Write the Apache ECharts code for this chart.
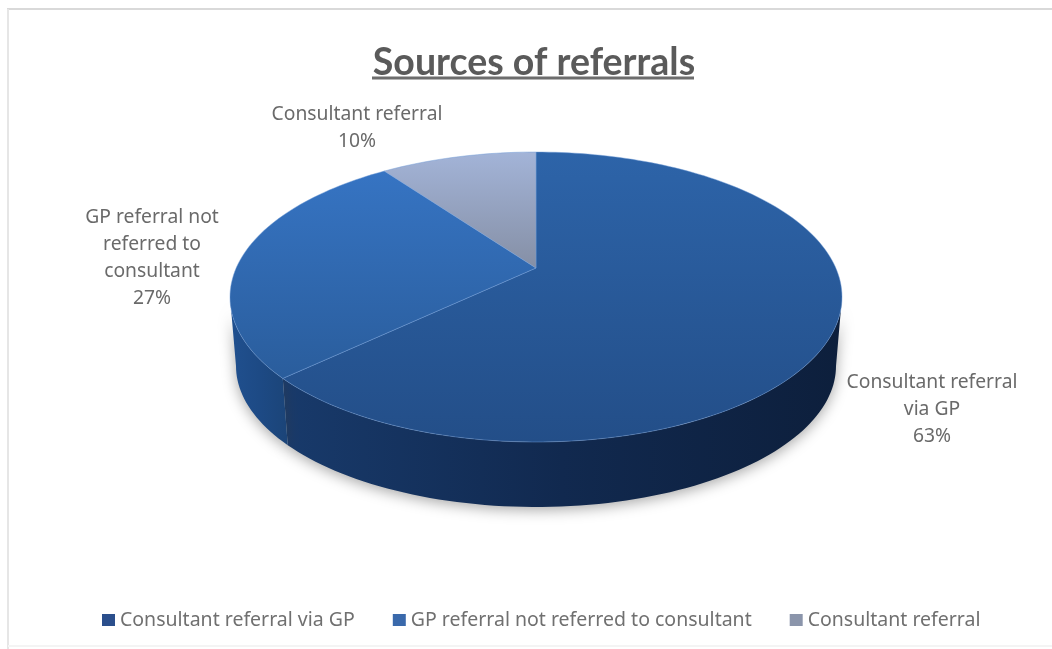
<!DOCTYPE html>
<html>
<head>
<meta charset="utf-8">
<style>html,body{margin:0;padding:0;background:#fff}#chart{width:1052px;height:649px}</style>
<script src="https://cdn.jsdelivr.net/npm/echarts@6/dist/echarts.min.js"></script>
</head>
<body>
<div id="chart"></div>
<script>
// Referral sources, in percent
const categories = ['Consultant referral via GP', 'GP referral not referred to consultant', 'Consultant referral'];
const values = [63, 27, 10];
const labelLines = [
  ['Consultant referral', 'via GP'],
  ['GP referral not', 'referred to', 'consultant'],
  ['Consultant referral']
];

// Tilted disc geometry, in pixels
const TOP_DISC = { cx: 536, cy: 297, rx: 306, ry: 145 };
const BASE_DISC = { cx: 536, cy: 366, rx: 300, ry: 141 };
const TILT = 0.2;              // shifts the pie's centre point towards the far rim
const LABEL_SLOTS = [[932, 383], [152, 218], [357, 115]];
const LABEL_LINE_HEIGHT = 27;
const LEGEND_SWATCH = ['#2b4f8c', '#3a69ab', '#8b95ab'];

const FACE_FILL = [
  ['#2d64a9', '#234e88'],
  ['#3674c3', '#2a5d9c'],
  ['#a3b4d8', '#858fa5']
];
const WALL_FILL = [
  ['#183a6b', '#11294f', '#0d1f3c'],
  ['#20508f', '#1d4a85', '#1b4478'],
  ['#1b4478', '#1b4478', '#1b4478']
];

const total = values.reduce((a, b) => a + b, 0);
const startOf = i => values.slice(0, i).reduce((a, b) => a + b, 0) / total * 360;

// Projects a clockwise angle (degrees from twelve o'clock) and a radius fraction onto a disc.
function project(disc, deg, r) {
  const a = deg * Math.PI / 180;
  const u = Math.sin(a) * r, v = Math.cos(a) * r;
  const w = 1 + TILT * v;
  return [
    disc.cx + disc.rx * Math.sqrt(1 - TILT * TILT) * u / w,
    disc.cy - disc.ry * (v + TILT) / w
  ];
}

function arc(disc, from, to) {
  const pts = [];
  const steps = Math.max(2, Math.ceil((to - from) / 1.5));
  for (let s = 0; s <= steps; s++) pts.push(project(disc, from + (to - from) * s / steps, 1));
  return pts;
}

// The rim faces the viewer between these two angles.
const FRONT_FROM = Math.acos(-TILT) * 180 / Math.PI;
const FRONT_TO = 360 - FRONT_FROM;

const gradient = (x2, y2, cols) => new echarts.graphic.LinearGradient(0, 0, x2, y2,
  cols.map((color, i) => ({ offset: i / (cols.length - 1), color })));

function renderSlice(index) {
  return function (params, api) {
    const from = startOf(index);
    const to = from + api.value(0) / total * 360;
    const children = [];

    const wallFrom = Math.max(from, FRONT_FROM), wallTo = Math.min(to, FRONT_TO);
    if (wallTo > wallFrom) {
      const pts = arc(TOP_DISC, wallFrom, wallTo).concat(arc(BASE_DISC, wallFrom, wallTo).reverse());
      children.push({
        type: 'polygon',
        z2: 1,
        shape: { points: pts },
        style: {
          fill: gradient(1, 0, WALL_FILL[index]),
          shadowBlur: 14,
          shadowOffsetY: 3,
          shadowColor: 'rgba(60,60,60,0.45)'
        }
      });
    }

    children.push({
      type: 'polygon',
      z2: 2,
      shape: { points: [project(TOP_DISC, 0, 0)].concat(arc(TOP_DISC, from, to)) },
      style: {
        fill: gradient(0, 1, FACE_FILL[index]),
        stroke: 'rgba(110,155,215,0.45)',
        lineWidth: 1
      }
    });

    const pct = Math.round(api.value(0) / total * 100) + '%';
    labelLines[index].concat(pct).forEach((line, n) => {
      children.push({
        type: 'text',
        z2: 3,
        style: {
          x: LABEL_SLOTS[index][0],
          y: LABEL_SLOTS[index][1] + n * LABEL_LINE_HEIGHT,
          text: line,
          fill: '#6a6a6a',
          font: '19.3px "Noto Sans"',
          align: 'center',
          verticalAlign: 'middle'
        }
      });
    });
    return { type: 'group', children };
  };
}

const chart = echarts.init(document.getElementById('chart'), null, { renderer: 'canvas' });
chart.setOption({
  backgroundColor: '#ffffff',
  animation: false,
  title: {
    text: 'Sources of referrals',
    left: 529,
    top: 39,
    textAlign: 'center',
    textStyle: { fontFamily: 'Lato', fontWeight: 'bold', fontSize: 37.5, color: '#5a5a5a' }
  },
  legend: {
    left: 102,
    top: 610,
    padding: 0,
    itemWidth: 13,
    itemHeight: 12,
    itemGap: 38,
    icon: 'rect',
    selectedMode: false,
    data: categories,
    textStyle: { fontFamily: 'Noto Sans', fontSize: 19.5, color: '#707070' }
  },
  graphic: [
    { type: 'line', shape: { x1: 7, y1: 9, x2: 1052, y2: 9 }, style: { stroke: '#d9d9d9', lineWidth: 2 } },
    { type: 'line', shape: { x1: 8, y1: 9, x2: 8, y2: 649 }, style: { stroke: '#e6e6e6', lineWidth: 2 } },
    { type: 'line', shape: { x1: 8, y1: 646, x2: 1052, y2: 646 }, style: { stroke: '#f4f4f4', lineWidth: 2 } },
    { type: 'line', shape: { x1: 372, y1: 78, x2: 694, y2: 78 }, style: { stroke: '#6d6d6d', lineWidth: 3 } }
  ],
  series: categories.map((name, i) => ({
    type: 'custom',
    name,
    coordinateSystem: 'none',
    silent: true,
    itemStyle: { color: LEGEND_SWATCH[i] },
    data: [[values[i]]],
    renderItem: renderSlice(i)
  }))
});
</script>
</body>
</html>
